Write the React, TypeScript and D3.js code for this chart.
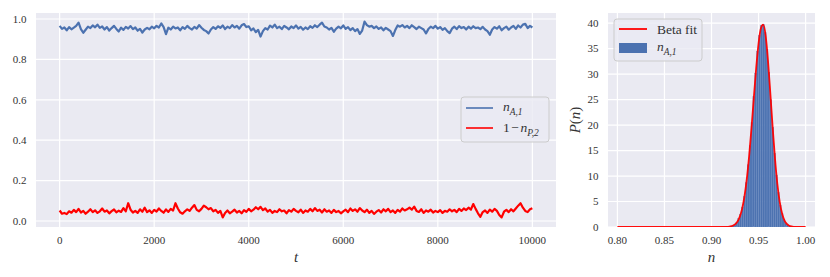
import * as d3 from "d3";

// time series, sampled every 50 steps from t = 0 to t = 10000
const nA1 = [
  0.966, 0.951, 0.958, 0.944, 0.96, 0.949, 0.957, 0.966, 0.982, 0.95, 0.932, 0.947, 0.962, 0.955, 0.968, 0.959, 0.972, 0.956, 0.963, 0.948,
  0.96, 0.943, 0.955, 0.966, 0.951, 0.938, 0.957, 0.946, 0.961, 0.953, 0.965, 0.95, 0.958, 0.942, 0.951, 0.933, 0.948, 0.956, 0.949, 0.962,
  0.954, 0.966, 0.958, 0.978, 0.96, 0.925, 0.957, 0.948, 0.962, 0.953, 0.958, 0.944, 0.96, 0.951, 0.966, 0.955, 0.948, 0.961, 0.952, 0.97,
  0.957, 0.946, 0.94, 0.928, 0.948, 0.96, 0.951, 0.964, 0.956, 0.968, 0.95, 0.962, 0.955, 0.97, 0.958, 0.966, 0.952, 0.969, 0.975, 0.96,
  0.964, 0.944, 0.953, 0.935, 0.946, 0.913, 0.94, 0.955, 0.948, 0.967, 0.958, 0.972, 0.955, 0.962, 0.95, 0.966, 0.958, 0.949, 0.963, 0.955,
  0.968, 0.952, 0.961, 0.947, 0.958, 0.95, 0.964, 0.956, 0.969, 0.96, 0.972, 0.982, 0.963, 0.958, 0.948, 0.956, 0.937, 0.952, 0.962, 0.954,
  0.968, 0.951, 0.96, 0.945, 0.955, 0.94, 0.95, 0.926, 0.943, 0.987, 0.97, 0.962, 0.966, 0.955, 0.963, 0.951, 0.958, 0.944, 0.956, 0.948,
  0.94, 0.916, 0.945, 0.968, 0.962, 0.97, 0.958, 0.966, 0.955, 0.969, 0.96, 0.95, 0.962, 0.955, 0.948, 0.929, 0.95, 0.962, 0.955, 0.966,
  0.952, 0.96, 0.946, 0.955, 0.94, 0.93, 0.952, 0.962, 0.95, 0.965, 0.955, 0.96, 0.948, 0.962, 0.952, 0.964, 0.955, 0.958, 0.95, 0.961,
  0.948, 0.94, 0.922, 0.948, 0.96, 0.952, 0.964, 0.944, 0.955, 0.962, 0.947, 0.958, 0.966, 0.951, 0.968, 0.958, 0.972, 0.976, 0.955, 0.966,
  0.958,
];
const oneMinusNP2 = [
  0.052, 0.036, 0.04, 0.034, 0.048, 0.041, 0.055, 0.044, 0.06, 0.042, 0.05, 0.036, 0.046, 0.058, 0.044, 0.053, 0.04, 0.048, 0.062, 0.046,
  0.052, 0.038, 0.049, 0.057, 0.043, 0.051, 0.045, 0.064, 0.048, 0.088, 0.056, 0.042, 0.05, 0.04, 0.058, 0.046, 0.066, 0.044, 0.053, 0.04,
  0.055, 0.047, 0.062, 0.05, 0.041, 0.057, 0.045, 0.06, 0.052, 0.088, 0.062, 0.043, 0.036, 0.048, 0.058, 0.05, 0.066, 0.079, 0.055, 0.048,
  0.06, 0.076, 0.068, 0.058, 0.064, 0.048, 0.055, 0.04, 0.05, 0.018, 0.04, 0.052, 0.038, 0.046, 0.056, 0.042, 0.05, 0.038, 0.054, 0.045,
  0.06, 0.048, 0.056, 0.068, 0.058, 0.07, 0.054, 0.062, 0.046, 0.055, 0.04, 0.05, 0.044, 0.058, 0.048, 0.052, 0.038, 0.054, 0.046, 0.06,
  0.05, 0.043, 0.056, 0.04, 0.052, 0.046, 0.06, 0.048, 0.064, 0.05, 0.056, 0.042, 0.058, 0.046, 0.052, 0.04, 0.055, 0.044, 0.05, 0.038,
  0.048, 0.056, 0.044, 0.062, 0.05, 0.058, 0.046, 0.064, 0.052, 0.044, 0.056, 0.04, 0.05, 0.035, 0.046, 0.054, 0.042, 0.058, 0.048, 0.06,
  0.044, 0.052, 0.04, 0.055, 0.046, 0.062, 0.052, 0.058, 0.066, 0.056, 0.071, 0.05, 0.045, 0.058, 0.04, 0.052, 0.046, 0.056, 0.042, 0.05,
  0.044, 0.054, 0.04, 0.05, 0.046, 0.058, 0.048, 0.055, 0.044, 0.06, 0.05, 0.062, 0.054, 0.066, 0.056, 0.084, 0.06, 0.038, 0.021, 0.044,
  0.052, 0.04, 0.056, 0.046, 0.06, 0.05, 0.03, 0.018, 0.046, 0.055, 0.044, 0.058, 0.048, 0.062, 0.076, 0.088, 0.066, 0.05, 0.044, 0.058,
  0.063,
];
const times = d3.range(0, 10001, 50);

// histogram of n_{A,1}
const histCenters = [
  0.911, 0.913, 0.915, 0.917, 0.919, 0.921, 0.923, 0.925, 0.927, 0.929, 0.931, 0.933, 0.935, 0.937, 0.939, 0.941, 0.943, 0.945, 0.947, 0.949,
  0.951, 0.953, 0.955, 0.957, 0.959, 0.961, 0.963, 0.965, 0.967, 0.969, 0.971, 0.973, 0.975, 0.977, 0.979, 0.981, 0.983, 0.985, 0.987, 0.989,
];
const histDensity = [
  0.003, 0.01, 0.02, 0.04, 0.08, 0.16, 0.3, 0.52, 0.92, 1.6, 2.5, 3.9, 6.0, 8.7, 12.2, 16.0, 20.5, 25.6, 30.2, 34.5,
  37.6, 39.6, 39.8, 38.2, 34.9, 30.4, 25.0, 19.6, 14.5, 10.2, 6.8, 4.3, 2.6, 1.45, 0.78, 0.4, 0.2, 0.09, 0.04, 0.01,
];
const histWidth = 0.002;

// beta fit curve
const fitN = [
  0.8, 0.85, 0.9, 0.905, 0.91, 0.9125, 0.915, 0.9175, 0.92, 0.9225, 0.925, 0.9275, 0.93, 0.9325, 0.935, 0.9375, 0.94, 0.9425, 0.945, 0.9475,
  0.95, 0.9525, 0.955, 0.9575, 0.96, 0.9625, 0.965, 0.9675, 0.97, 0.9725, 0.975, 0.9775, 0.98, 0.9825, 0.985, 0.9875, 0.99, 0.995, 1.0,
];
const fitP = [
  0, 0, 0, 0.0002, 0.002, 0.006, 0.016, 0.04, 0.1, 0.24, 0.51, 1.04, 1.98, 3.54, 5.94, 9.38, 13.9, 19.4, 25.4, 31.2,
  36.0, 39.0, 39.7, 37.6, 32.7, 26.3, 19.5, 13.4, 8.44, 4.92, 2.64, 1.31, 0.6, 0.25, 0.1, 0.035, 0.01, 0, 0,
];

const leftTicksX = [0, 2000, 4000, 6000, 8000, 10000];
const leftTicksY = [0.0, 0.2, 0.4, 0.6, 0.8, 1.0];
const rightTicksX = [0.8, 0.85, 0.9, 0.95, 1.0];
const rightTicksY = [0, 5, 10, 15, 20, 25, 30, 35, 40];

const BLUE = "#4c72b0";
const RED = "#ff0000";
const BG = "#eaeaf2";
const TXT = "#333333";
const SERIF = "'Liberation Serif', 'DejaVu Serif', serif";

const Sub = ({ main, sub, size }: { main: string; sub: string; size: number }) => (
  <>
    <tspan fontStyle="italic">{main}</tspan>
    <tspan fontSize={size * 0.7} dy={size * 0.28} fontStyle="italic">
      {sub}
    </tspan>
  </>
);

const App = () => {
  const L = { x0: 36, x1: 556, y0: 13, y1: 227 };
  const R = { x0: 608, x1: 815, y0: 13, y1: 227 };

  const xL = d3.scaleLinear().domain([-500, 10500]).range([L.x0, L.x1]);
  const yL = d3.scaleLinear().domain([-0.0297, 1.0297]).range([L.y1, L.y0]);
  const xR = d3.scaleLinear().domain([0.79, 1.01]).range([R.x0, R.x1]);
  const yR = d3.scaleLinear().domain([0, 42]).range([R.y1, R.y0]);

  const lineL = (vals: number[]) =>
    d3
      .line<number>()
      .x((_, i) => xL(times[i]))
      .y((d) => yL(d))(vals) || "";

  const fitPath =
    d3
      .line<number>()
      .x((_, i) => xR(fitN[i]))
      .y((d) => yR(d))
      .curve(d3.curveMonotoneX)(fitP) || "";

  return (
    <svg
      width={830}
      height={277}
      style={{ position: "absolute", left: 0, top: 0, background: "#fff" }}
      fontFamily={SERIF}
    >
      <defs>
        <clipPath id="clipR">
          <rect x={R.x0} y={R.y0} width={R.x1 - R.x0} height={R.y1 - R.y0} />
        </clipPath>
      </defs>

      {/* left panel */}
      <rect x={L.x0} y={L.y0} width={L.x1 - L.x0} height={L.y1 - L.y0} fill={BG} />
      {leftTicksX.map((t) => (
        <line key={"gx" + t} x1={xL(t)} x2={xL(t)} y1={L.y0} y2={L.y1} stroke="#fff" strokeWidth={1.2} />
      ))}
      {leftTicksY.map((t) => (
        <line key={"gy" + t} x1={L.x0} x2={L.x1} y1={yL(t)} y2={yL(t)} stroke="#fff" strokeWidth={1.2} />
      ))}
      <path d={lineL(nA1)} fill="none" stroke={BLUE} strokeWidth={2.2} strokeLinejoin="round" />
      <path d={lineL(oneMinusNP2)} fill="none" stroke={RED} strokeWidth={2.2} strokeLinejoin="round" />
      {leftTicksX.map((t) => (
        <text key={"tx" + t} x={xL(t)} y={244} fontSize={11} fill={TXT} textAnchor="middle">
          {t}
        </text>
      ))}
      {leftTicksY.map((t) => (
        <text key={"ty" + t} x={26.5} y={yL(t) + 3.8} fontSize={11} fill={TXT} textAnchor="end">
          {t.toFixed(1)}
        </text>
      ))}
      <text x={(L.x0 + L.x1) / 2} y={262} fontSize={15} fill={TXT} textAnchor="middle" fontStyle="italic">
        t
      </text>

      {/* left legend */}
      <rect x={461} y={97} width={88} height={45} rx={3} fill={BG} fillOpacity={0.8} stroke="#cccccc" strokeWidth={1} />
      <line x1={466} x2={493} y1={108} y2={108} stroke={BLUE} strokeWidth={1.6} />
      <line x1={466} x2={493} y1={128} y2={128} stroke={RED} strokeWidth={1.6} />
      <text x={503} y={111} fontSize={13.5} fill={TXT}>
        <Sub main="n" sub="A,1" size={13.5} />
      </text>
      <text x={503} y={132} fontSize={13.5} fill={TXT}>
        <tspan>1</tspan>
        <tspan dx={1.5}>−</tspan>
        <tspan dx={1.5} fontStyle="italic">n</tspan>
        <tspan fontSize={9.5} dy={3.8} fontStyle="italic">P,2</tspan>
      </text>

      {/* right panel */}
      <rect x={R.x0} y={R.y0} width={R.x1 - R.x0} height={R.y1 - R.y0} fill={BG} />
      {rightTicksX.map((t) => (
        <line key={"rgx" + t} x1={xR(t)} x2={xR(t)} y1={R.y0} y2={R.y1} stroke="#fff" strokeWidth={1.2} />
      ))}
      {rightTicksY.map((t) => (
        <line key={"rgy" + t} x1={R.x0} x2={R.x1} y1={yR(t)} y2={yR(t)} stroke="#fff" strokeWidth={1.2} />
      ))}
      <g clipPath="url(#clipR)">
        {histCenters.map((c, i) => (
          <rect
            key={"h" + i}
            x={xR(c - histWidth / 2)}
            width={xR(c + histWidth / 2) - xR(c - histWidth / 2)}
            y={yR(histDensity[i])}
            height={yR(0) - yR(histDensity[i])}
            fill={BLUE}
            stroke="#6688c0"
            strokeWidth={0.3}
          />
        ))}
        <path d={fitPath} fill="none" stroke={RED} strokeWidth={1.8} strokeLinejoin="round" strokeOpacity={0.95} />
      </g>
      {rightTicksX.map((t) => (
        <text key={"rtx" + t} x={xR(t)} y={244} fontSize={11} fill={TXT} textAnchor="middle">
          {t.toFixed(2)}
        </text>
      ))}
      {rightTicksY.map((t) => (
        <text key={"rty" + t} x={598.5} y={yR(t) + 3.8} fontSize={11} fill={TXT} textAnchor="end">
          {t}
        </text>
      ))}
      <text x={(R.x0 + R.x1) / 2} y={262} fontSize={15} fill={TXT} textAnchor="middle" fontStyle="italic">
        n
      </text>
      <text transform={`translate(580,${(R.y0 + R.y1) / 2}) rotate(-90)`} fontSize={15} fill={TXT} textAnchor="middle">
        <tspan fontStyle="italic">P</tspan>
        <tspan>(</tspan>
        <tspan fontStyle="italic">n</tspan>
        <tspan>)</tspan>
      </text>

      {/* right legend */}
      <rect x={614} y={19} width={88} height={42} rx={3} fill={BG} fillOpacity={0.8} stroke="#cccccc" strokeWidth={1} />
      <line x1={619} x2={647} y1={29} y2={29} stroke={RED} strokeWidth={1.8} />
      <rect x={619} y={43} width={28} height={10} fill={BLUE} />
      <text x={657} y={34} fontSize={13.5} fill={TXT}>
        Beta fit
      </text>
      <text x={657} y={51} fontSize={13.5} fill={TXT}>
        <Sub main="n" sub="A,1" size={13.5} />
      </text>
    </svg>
  );
};

export default App;
